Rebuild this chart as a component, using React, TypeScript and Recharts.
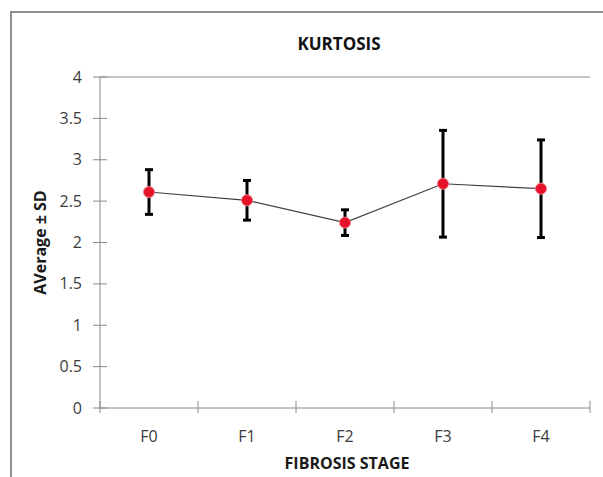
import React from "react";
import { ComposedChart, Line, ErrorBar, XAxis, YAxis, ReferenceLine } from "recharts";

// fibrosis stages on the x axis
const stages = ["F0", "F1", "F2", "F3", "F4"];
// mean kurtosis per stage
const means = [2.61, 2.51, 2.24, 2.71, 2.65];
// standard deviation per stage
const sds = [0.27, 0.24, 0.155, 0.645, 0.59];
// y axis ticks
const yTicks = [0, 0.5, 1, 1.5, 2, 2.5, 3, 3.5, 4];

const data = stages.map((stage, i) => ({ stage, mean: means[i], sd: sds[i] }));

const AXIS = "#8a8a8a";
const TEXT = "#3c3c3c";
const FONT = "'Open Sans', sans-serif";

// y tick: cross mark through the axis plus the value on the left
const YTick = (props: any) => {
  const { x, y, payload } = props;
  return (
    <g>
      <line x1={x - 7} x2={x + 7} y1={y} y2={y} stroke={AXIS} />
      <text x={x - 18} y={y} dy="0.35em" textAnchor="end" fontSize={16} fill={TEXT} fontFamily={FONT}>
        {payload.value}
      </text>
    </g>
  );
};

// x tick: marks sit on category boundaries, label in the middle
const XTick = (props: any) => {
  const { x, y, payload, width, visibleTicksCount, index } = props;
  const band = width / visibleTicksCount;
  const left = x - band / 2;
  return (
    <g>
      <line x1={left} x2={left} y1={y - 7} y2={y + 5} stroke={AXIS} />
      {index === visibleTicksCount - 1 && (
        <line x1={left + band} x2={left + band} y1={y - 7} y2={y + 5} stroke={AXIS} />
      )}
      <text x={x} y={y + 34} textAnchor="middle" fontSize={16} fill={TEXT} fontFamily={FONT}>
        {payload.value}
      </text>
    </g>
  );
};

const Dot = (props: any) => {
  const { cx, cy } = props;
  if (cx == null || cy == null) return null;
  return <circle cx={cx} cy={cy} r={5.5} fill="#e5122a" stroke="#f07a84" strokeWidth={1} />;
};

export default function App() {
  return (
    <div style={{ position: "relative", width: 603, height: 477, background: "#fff", overflow: "hidden" }}>
      <style>{`body { margin: 0; }`}</style>
      {/* chart frame, open on the right and bottom */}
      <div
        style={{
          position: "absolute",
          left: 10,
          top: 11,
          width: 620,
          height: 500,
          borderLeft: "2px solid #8e8e8e",
          borderTop: "2px solid #8e8e8e",
        }}
      />
      <div
        style={{
          position: "absolute",
          left: 0,
          width: 678,
          top: 32,
          textAlign: "center",
          fontFamily: FONT,
          fontWeight: 700,
          fontSize: 17,
          color: "#111",
        }}
      >
        KURTOSIS
      </div>
      <ComposedChart
        width={603}
        height={477}
        data={data}
        margin={{ top: 77, right: 13, bottom: 0, left: 10 }}
        style={{ position: "absolute", left: 0, top: 0 }}
      >
        <XAxis
          dataKey="stage"
          height={69}
          padding={{ left: 49, right: 49 }}
          stroke={AXIS}
          tickLine={false}
          tickSize={0}
          tickMargin={0}
          tick={<XTick />}
          interval={0}
          label={({ viewBox }: any) => (
            <text
              x={viewBox.x + viewBox.width / 2 + 2}
              y={viewBox.y + 61}
              textAnchor="middle"
              fontSize={16}
              fontWeight={700}
              fill="#1a1a1a"
              fontFamily={FONT}
            >
              FIBROSIS STAGE
            </text>
          )}
        />
        <YAxis
          yAxisId="l"
          width={90}
          domain={[0, 4]}
          ticks={yTicks}
          stroke={AXIS}
          tickLine={false}
          tickSize={0}
          tickMargin={0}
          tick={<YTick />}
          label={({ viewBox }: any) => {
            const cx = viewBox.x + 30;
            const cy = viewBox.y + viewBox.height / 2;
            return (
              <text
                x={cx}
                y={cy}
                transform={`rotate(-90 ${cx} ${cy})`}
                textAnchor="middle"
                dominantBaseline="central"
                fontSize={16}
                fontWeight={700}
                fill="#1a1a1a"
                fontFamily={FONT}
              >
                AVerage ± SD
              </text>
            );
          }}
        />
        <YAxis yAxisId="r" orientation="right" width={0} domain={[0, 4]} stroke={AXIS} tick={false} tickLine={false} />
        <ReferenceLine yAxisId="l" y={4} stroke={AXIS} />
        <Line
          yAxisId="l"
          type="linear"
          dataKey="mean"
          stroke="#404040"
          strokeWidth={1.2}
          dot={<Dot />}
          activeDot={false}
          isAnimationActive={false}
        >
          <ErrorBar dataKey="sd" direction="y" width={4} stroke="#000" strokeWidth={3} isAnimationActive={false} />
        </Line>
      </ComposedChart>
    </div>
  );
}
